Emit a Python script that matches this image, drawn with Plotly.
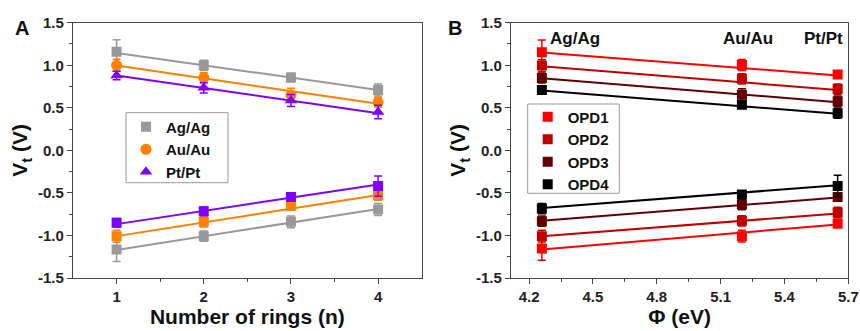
import plotly.graph_objects as go

# ---------------- Panel A data ----------------
rings = [1, 2, 3, 4]
a_names = ["Ag/Ag", "Au/Au", "Pt/Pt"]
a_colors = ["#999999", "#FF7F00", "#8000FF"]
a_symbols = ["square", "circle", "triangle-up"]

a_up = {
    "Ag/Ag": [1.16, 1.00, 0.855, 0.71],
    "Au/Au": [1.00, 0.855, 0.65, 0.565],
    "Pt/Pt": [0.88, 0.735, 0.585, 0.45],
}
a_up_err = {
    "Ag/Ag": [0.14, 0.06, 0.05, 0.07],
    "Au/Au": [0.07, 0.06, 0.08, 0.06],
    "Pt/Pt": [0.05, 0.06, 0.07, 0.08],
}
a_lo = {
    "Ag/Ag": [-1.165, -1.008, -0.84, -0.695],
    "Au/Au": [-1.01, -0.84, -0.65, -0.527],
    "Pt/Pt": [-0.85, -0.715, -0.547, -0.42],
}
a_lo_err = {
    "Ag/Ag": [0.14, 0.06, 0.07, 0.07],
    "Au/Au": [0.07, 0.06, 0.05, 0.06],
    "Pt/Pt": [0.05, 0.05, 0.03, 0.12],
}
a_fit_x = [1, 4]
a_fit_up = {"Ag/Ag": [1.145, 0.71], "Au/Au": [0.996, 0.547], "Pt/Pt": [0.879, 0.437]}
a_fit_lo = {"Ag/Ag": [-1.17, -0.688], "Au/Au": [-1.008, -0.524], "Pt/Pt": [-0.867, -0.40]}

# ---------------- Panel B data ----------------
phi = [4.26, 5.2, 5.65]
phi_labels = ["Ag/Ag", "Au/Au", "Pt/Pt"]
b_names = ["OPD1", "OPD2", "OPD3", "OPD4"]
b_colors = ["#FF0000", "#C00000", "#600000", "#000000"]
b_up = {
    "OPD1": [1.152, 1.004, 0.89],
    "OPD2": [0.996, 0.84, 0.72],
    "OPD3": [0.85, 0.653, 0.578],
    "OPD4": [0.71, 0.535, 0.437],
}
b_up_err = {
    "OPD1": [0.145, 0.065, 0.04],
    "OPD2": [0.07, 0.06, 0.06],
    "OPD3": [0.06, 0.07, 0.06],
    "OPD4": [0.05, 0.04, 0.06],
}
b_lo = {
    "OPD1": [-1.152, -1.008, -0.86],
    "OPD2": [-1.008, -0.828, -0.73],
    "OPD3": [-0.832, -0.637, -0.547],
    "OPD4": [-0.684, -0.52, -0.418],
}
b_lo_err = {
    "OPD1": [0.14, 0.07, 0.05],
    "OPD2": [0.07, 0.06, 0.06],
    "OPD3": [0.06, 0.06, 0.04],
    "OPD4": [0.06, 0.03, 0.125],
}
b_fit_x = [4.26, 5.65]
b_fit_up = {"OPD1": [1.15, 0.88], "OPD2": [0.988, 0.71], "OPD3": [0.846, 0.566], "OPD4": [0.703, 0.43]}
b_fit_lo = {"OPD1": [-1.164, -0.871], "OPD2": [-1.008, -0.742], "OPD3": [-0.828, -0.555], "OPD4": [-0.676, -0.41]}

FONT = "Arial, 'Liberation Sans', sans-serif"
W, H = 860, 331

fig = go.Figure()

def add_series(x, y, err, color, symbol, name, xa, ya, legend, showlegend, size):
    fig.add_trace(go.Scatter(
        x=x, y=y, mode="markers", name=name, xaxis=xa, yaxis=ya,
        legend=legend, showlegend=showlegend,
        marker=dict(color=color, symbol=symbol, size=size, line=dict(width=0)),
        error_y=dict(type="data", array=err, visible=True, color=color,
                     thickness=1.5, width=4),
    ))

def add_fit(x, y, color, xa, ya):
    fig.add_trace(go.Scatter(
        x=x, y=y, mode="lines", xaxis=xa, yaxis=ya, showlegend=False,
        line=dict(color=color, width=2), hoverinfo="skip",
    ))

# Panel A
for n, c in zip(a_names, a_colors):
    add_fit(a_fit_x, a_fit_up[n], c, "x", "y")
    add_fit(a_fit_x, a_fit_lo[n], c, "x", "y")
for n, c, s in zip(a_names, a_colors, a_symbols):
    add_series(rings, a_lo[n], a_lo_err[n], c, "square", n, "x", "y", "legend", False, 10)
for n, c, s in zip(a_names, a_colors, a_symbols):
    add_series(rings, a_up[n], a_up_err[n], c, s, n, "x", "y", "legend", True,
               10 if s == "square" else 11)

# Panel B
for n, c in zip(b_names, b_colors):
    add_fit(b_fit_x, b_fit_up[n], c, "x2", "y2")
    add_fit(b_fit_x, b_fit_lo[n], c, "x2", "y2")
for n, c in zip(b_names, b_colors):
    add_series(phi, b_lo[n], b_lo_err[n], c, "square", n, "x2", "y2", "legend2", False, 10)
for n, c in zip(b_names, b_colors):
    add_series(phi, b_up[n], b_up_err[n], c, "square", n, "x2", "y2", "legend2", True, 10)

AX = "#444444"
tickfont = dict(family=FONT, size=15, color="#222222", weight="bold")
titlefont = dict(family=FONT, size=21, color="#111111", weight="bold")

def axis_common():
    return dict(showline=True, linecolor=AX, linewidth=1.2, mirror=True,
                ticks="outside", ticklen=5, tickwidth=1.2, tickcolor=AX,
                showgrid=False, zeroline=False, tickfont=tickfont, automargin=False)

ydom = [1 - 278 / H, 1 - 22.7 / H]
yticks = [-1.5, -1.0, -0.5, 0.0, 0.5, 1.0, 1.5]
yticktext = ["-1.5", "-1.0", "-0.5", "0.0", "0.5", "1.0", "1.5"]
yminor = [-1.25, -0.75, -0.25, 0.25, 0.75, 1.25]
b_ticks = [4.2, 4.5, 4.8, 5.1, 5.4, 5.7]
b_ticktext = ["4.2", "4.5", "4.8", "5.1", "5.4", "5.7"]

legend_font = dict(family=FONT, size=15, color="#111111", weight="bold")

fig.update_layout(
    width=W, height=H, margin=dict(l=0, r=0, t=0, b=0, autoexpand=False),
    paper_bgcolor="white", plot_bgcolor="rgba(0,0,0,0)",
    font=dict(family=FONT),
    xaxis=dict(domain=[73 / W, 421.7 / W], range=[0.5, 4.5], anchor="y",
               tickvals=rings,
               minor=dict(tickvals=[1.5, 2.5, 3.5], ticks="outside", ticklen=3, tickcolor=AX, tickwidth=1),
               title=dict(text="Number of rings (n)", font=titlefont, standoff=3),
               **axis_common()),
    yaxis=dict(domain=ydom, range=[-1.5, 1.5], anchor="x",
               tickvals=yticks, ticktext=yticktext,
               minor=dict(tickvals=yminor, ticks="outside", ticklen=3, tickcolor=AX, tickwidth=1),
               title=dict(text="V<sub>t</sub> (V)", font=titlefont, standoff=4),
               **axis_common()),
    xaxis2=dict(domain=[511 / W, 848.3 / W], range=[4.115, 5.70], anchor="y2",
                tickvals=b_ticks, ticktext=b_ticktext,
                minor=dict(tickvals=[4.35, 4.65, 4.95, 5.25, 5.55], ticks="outside", ticklen=3, tickcolor=AX, tickwidth=1),
                title=dict(text="Φ (eV)", font=titlefont, standoff=3),
                **axis_common()),
    yaxis2=dict(domain=ydom, range=[-1.5, 1.5], anchor="x2",
                tickvals=yticks, ticktext=yticktext,
                minor=dict(tickvals=yminor, ticks="outside", ticklen=3, tickcolor=AX, tickwidth=1),
                title=dict(text="V<sub>t</sub> (V)", font=titlefont, standoff=4),
                **axis_common()),
    legend=dict(x=126 / W, y=1 - 110.5 / H, xanchor="left", yanchor="top",
                bgcolor="rgba(0,0,0,0)", borderwidth=0,
                font=legend_font, tracegroupgap=0),
    legend2=dict(x=527.7 / W, y=1 - 100.5 / H, xanchor="left", yanchor="top",
                 bgcolor="rgba(0,0,0,0)", borderwidth=0,
                 font=legend_font, tracegroupgap=0),
)

# Legend frames
fig.add_shape(type="rect", xref="paper", yref="paper", layer="below",
              x0=126 / W, x1=228 / W, y0=1 - 182.7 / H, y1=1 - 112.7 / H,
              line=dict(color="#999999", width=1), fillcolor="white")
fig.add_shape(type="rect", xref="paper", yref="paper", layer="below",
              x0=527.7 / W, x1=619.3 / W, y0=1 - 193.3 / H, y1=1 - 104 / H,
              line=dict(color="#999999", width=1), fillcolor="white")

# Panel letters
fig.add_annotation(text="<b>A</b>", x=22 / W, y=1 - 28 / H, xref="paper", yref="paper",
                   xanchor="center", yanchor="middle",
                   showarrow=False, font=dict(family=FONT, size=20, color="#111111"))
fig.add_annotation(text="<b>B</b>", x=455 / W, y=1 - 28 / H, xref="paper", yref="paper",
                   xanchor="center", yanchor="middle",
                   showarrow=False, font=dict(family=FONT, size=20, color="#111111"))

# Electrode labels in panel B
label_px = [575, 748, 823]
for t, px in zip(phi_labels, label_px):
    fig.add_annotation(text="<b>%s</b>" % t, x=px / W, y=1 - 38 / H, xref="paper", yref="paper",
                       xanchor="center", yanchor="middle",
                       showarrow=False, font=dict(family=FONT, size=17, color="#111111"))

fig.write_html("out.html", config={"displayModeBar": False},
               post_script="document.body.style.margin='0px';document.body.style.overflow='hidden';")
